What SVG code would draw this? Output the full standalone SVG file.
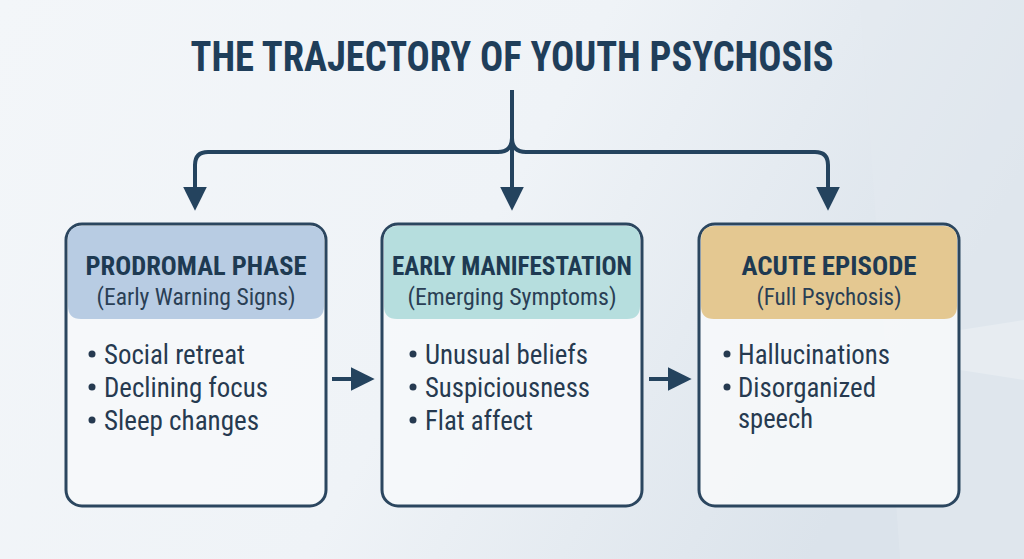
<svg xmlns="http://www.w3.org/2000/svg" width="1024" height="559" viewBox="0 0 1024 559">
  <defs>
    <linearGradient id="bg" x1="0" y1="0" x2="1" y2="0.3">
      <stop offset="0" stop-color="#f3f6f9"/>
      <stop offset="0.55" stop-color="#eff3f7"/>
      <stop offset="1" stop-color="#dbe3eb"/>
    </linearGradient>
    <marker id="ah" markerUnits="userSpaceOnUse" markerWidth="26" markerHeight="24" viewBox="0 0 24 22" refX="2" refY="11" orient="auto">
      <path d="M0,0 L22,11 L0,22 Z" fill="#24435e"/>
    </marker>
    <style>
      .box{fill:#f5f8fa;fill-opacity:0.94;stroke:#2b465f;stroke-width:3}
      .conn{fill:none;stroke:#24435e;stroke-width:4;stroke-linecap:butt}
      .title{font-family:"Liberation Sans Narrow","Roboto Condensed","Liberation Sans",sans-serif;font-weight:bold;fill:#1f3e5a}
      .htitle{font-family:"Liberation Sans Narrow","Roboto Condensed","Liberation Sans",sans-serif;font-weight:bold;font-size:26px;fill:#1e3a52;text-anchor:middle}
      .hsub{font-family:"Liberation Sans Narrow","Roboto Condensed","Liberation Sans",sans-serif;font-size:23px;fill:#2a3f55;text-anchor:middle}
      .item{font-family:"Liberation Sans Narrow","Roboto Condensed","Liberation Sans",sans-serif;font-size:28px;fill:#263a50}
      .dot{fill:#263a50}
    </style>
  </defs>
  <rect width="1024" height="559" fill="url(#bg)"/>
  <g opacity="0.5">
    <polygon points="860,0 1024,0 1024,559 900,559" fill="#e3eaf0"/>
    <polygon points="960,330 1024,320 1024,380 960,370" fill="#f3f6f8"/>
  </g>

  <text class="title" x="512" y="71" font-size="43" text-anchor="middle" textLength="643" lengthAdjust="spacingAndGlyphs">THE TRAJECTORY OF YOUTH PSYCHOSIS</text>

  <g id="connectors">
    <path class="conn" d="M512,90 V189" marker-end="url(#ah)"/>
    <path class="conn" d="M512,138 Q512,152 498,152 H208 Q195,152 195,165 V189" marker-end="url(#ah)"/>
    <path class="conn" d="M512,138 Q512,152 526,152 H815 Q828,152 828,165 V189" marker-end="url(#ah)"/>
    <path class="conn" d="M332,379 H353" marker-end="url(#ah)"/>
    <path class="conn" d="M649,379 H670" marker-end="url(#ah)"/>
  </g>

  <g id="prodromal">
    <rect class="box" x="66" y="224" width="260" height="282" rx="16"/>
    <path d="M68,240 Q68,226 82,226 H310 Q324,226 324,240 V306 Q324,319 311,319 H81 Q68,319 68,306 Z" fill="#b8cce3"/>
    <text class="htitle" x="196" y="275" textLength="221" lengthAdjust="spacingAndGlyphs">PRODROMAL PHASE</text>
    <text class="hsub" x="196" y="305" textLength="199" lengthAdjust="spacingAndGlyphs">(Early Warning Signs)</text>
    <circle class="dot" cx="92" cy="354" r="3.5"/>
    <circle class="dot" cx="92" cy="387" r="3.5"/>
    <circle class="dot" cx="92" cy="420" r="3.5"/>
    <text class="item" x="104" y="364" textLength="141" lengthAdjust="spacingAndGlyphs">Social retreat</text>
    <text class="item" x="104" y="397" textLength="164" lengthAdjust="spacingAndGlyphs">Declining focus</text>
    <text class="item" x="104" y="430" textLength="155" lengthAdjust="spacingAndGlyphs">Sleep changes</text>
  </g>

  <g id="early">
    <rect class="box" x="382" y="224" width="260" height="282" rx="16"/>
    <path d="M384,240 Q384,226 398,226 H626 Q640,226 640,240 V306 Q640,319 627,319 H397 Q384,319 384,306 Z" fill="#b6dede"/>
    <text class="htitle" x="512" y="275" textLength="240" lengthAdjust="spacingAndGlyphs">EARLY MANIFESTATION</text>
    <text class="hsub" x="512" y="305" textLength="209" lengthAdjust="spacingAndGlyphs">(Emerging Symptoms)</text>
    <circle class="dot" cx="413" cy="354" r="3.5"/>
    <circle class="dot" cx="413" cy="387" r="3.5"/>
    <circle class="dot" cx="413" cy="420" r="3.5"/>
    <text class="item" x="425" y="364" textLength="163" lengthAdjust="spacingAndGlyphs">Unusual beliefs</text>
    <text class="item" x="425" y="397" textLength="165" lengthAdjust="spacingAndGlyphs">Suspiciousness</text>
    <text class="item" x="425" y="430" textLength="108" lengthAdjust="spacingAndGlyphs">Flat affect</text>
  </g>

  <g id="acute">
    <rect class="box" x="699" y="224" width="260" height="282" rx="16"/>
    <path d="M701,240 Q701,226 715,226 H943 Q957,226 957,240 V306 Q957,319 944,319 H714 Q701,319 701,306 Z" fill="#e4c891"/>
    <text class="htitle" x="829" y="275" textLength="175" lengthAdjust="spacingAndGlyphs">ACUTE EPISODE</text>
    <text class="hsub" x="829" y="305" textLength="145" lengthAdjust="spacingAndGlyphs">(Full Psychosis)</text>
    <circle class="dot" cx="727" cy="354" r="3.5"/>
    <circle class="dot" cx="727" cy="387" r="3.5"/>
    <text class="item" x="738" y="364" textLength="152" lengthAdjust="spacingAndGlyphs">Hallucinations</text>
    <text class="item" x="738" y="397" textLength="138" lengthAdjust="spacingAndGlyphs">Disorganized</text>
    <text class="item" x="738" y="428" textLength="75" lengthAdjust="spacingAndGlyphs">speech</text>
  </g>
</svg>
